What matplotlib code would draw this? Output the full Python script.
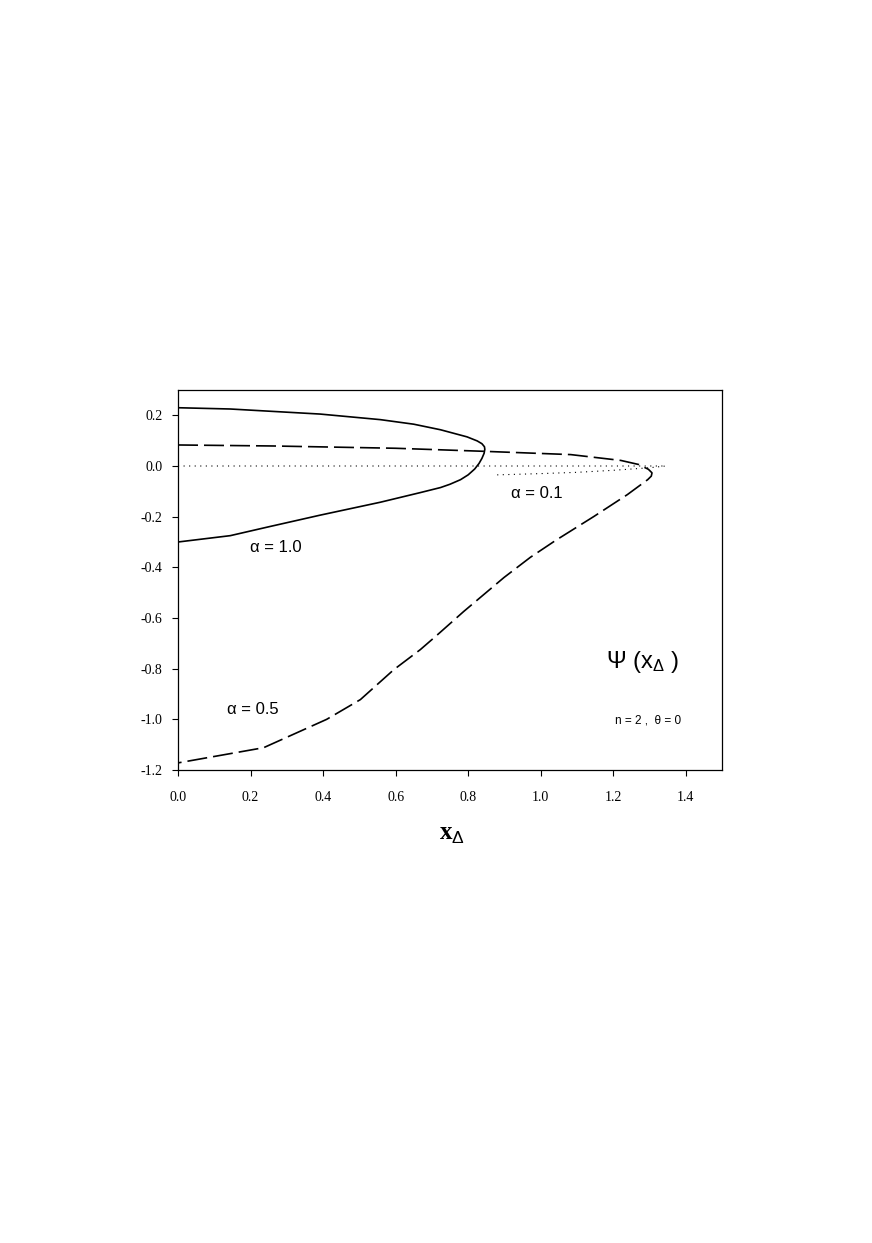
import matplotlib
matplotlib.use("Agg")
import matplotlib.pyplot as plt

plt.rcParams['axes.unicode_minus'] = False
plt.rcParams['mathtext.fontset'] = 'custom'
plt.rcParams['mathtext.rm'] = 'Liberation Sans'
plt.rcParams['mathtext.it'] = 'Liberation Sans:italic'
plt.rcParams['mathtext.bf'] = 'Liberation Serif:bold'
plt.rcParams['mathtext.sf'] = 'Liberation Sans'

# alpha = 1.0 (solid), traced around the closed branch
x_a10 = [0, 0.144, 0.392, 0.558, 0.65, 0.724, 0.797, 0.825, 0.838, 0.845, 0.846, 0.844, 0.838, 0.830, 0.818, 0.800, 0.779, 0.750, 0.724, 0.668, 0.613, 0.558, 0.392, 0.25, 0.144, 0]
y_a10 = [0.23, 0.225, 0.205, 0.183, 0.165, 0.143, 0.115, 0.099, 0.088, 0.076, 0.066, 0.050, 0.030, 0.010, -0.012, -0.035, -0.054, -0.072, -0.085, -0.105, -0.124, -0.143, -0.194, -0.24, -0.275, -0.30]

# alpha = 0.5 (dashed)
x_a05 = [0, 0.263, 0.6, 0.843, 1.083, 1.221, 1.27, 1.297, 1.307, 1.305, 1.295, 1.239, 1.147, 1.041, 0.972, 0.899, 0.788, 0.714, 0.668, 0.595, 0.503, 0.41, 0.236, 0]
y_a05 = [0.083, 0.079, 0.07, 0.058, 0.045, 0.022, 0.006, -0.013, -0.027, -0.040, -0.054, -0.113, -0.199, -0.294, -0.360, -0.440, -0.574, -0.668, -0.725, -0.804, -0.922, -1.0, -1.112, -1.172]

# alpha = 0.1 (dotted)
x_a01 = [0, 0.5, 1.0, 1.345, 1.3, 1.2, 1.1, 1.0, 0.88]
y_a01 = [0.0, 0.0, 0.0, 0.0, -0.007, -0.017, -0.025, -0.030, -0.035]

xticks = [0.0, 0.2, 0.4, 0.6, 0.8, 1.0, 1.2, 1.4]
yticks = [-1.2, -1.0, -0.8, -0.6, -0.4, -0.2, 0.0, 0.2]

fig = plt.figure(figsize=(8.72, 12.43), dpi=100)
ax = fig.add_axes([178/872, 1 - 770/1243, (722-178)/872, (770-390)/1243])

ax.plot(x_a10, y_a10, color='black', lw=1.2, solid_joinstyle='round')
ax.plot(x_a05, y_a05, color='black', lw=1.2, dashes=(12, 3.6))
ax.plot(x_a01, y_a01, color='black', lw=0.8, linestyle=(0, (1, 4)))

ax.set_xlim(0, 1.5)
ax.set_ylim(-1.2, 0.3)
ax.set_xticks(xticks)
ax.set_yticks(yticks)
ax.set_xticklabels([f"{v:.1f}" for v in xticks], family='Liberation Serif', fontsize=10)
ax.set_yticklabels([f"{v:.1f}" for v in yticks], family='Liberation Serif', fontsize=10)
ax.tick_params(axis='both', direction='out', length=4, width=0.8)
ax.tick_params(axis='x', pad=11)
ax.tick_params(axis='y', pad=7)
for s in ax.spines.values():
    s.set_linewidth(0.9)

ax.text(0.199, -0.323, "α = 1.0", family='Liberation Sans', fontsize=12, va='center', ha='left')
ax.text(0.135, -0.961, "α = 0.5", family='Liberation Sans', fontsize=12, va='center', ha='left')
ax.text(0.917, -0.109, "α = 0.1", family='Liberation Sans', fontsize=12, va='center', ha='left')
ax.text(1.18, -0.796, r"$\Psi\ (\mathrm{x}_{\Delta}\ )$", fontsize=17, va='baseline', ha='left')
ax.text(1.205, -1.017, "n = 2 ,  θ = 0", family='Liberation Sans', fontsize=8.5, va='baseline', ha='left')

fig.text(438.6/872, 1 - 840/1243, r"$\mathbf{x}_{\Delta}$", fontsize=18, va='baseline', ha='left')

fig.savefig("out.png", dpi=100)
